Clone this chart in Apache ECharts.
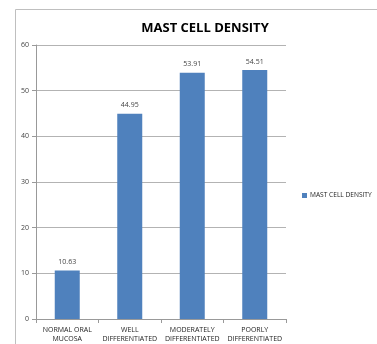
<!DOCTYPE html>
<html>
<head>
<meta charset="utf-8">
<script src="https://cdn.jsdelivr.net/npm/echarts@6/dist/echarts.min.js"></script>
<style>
  html, body { margin: 0; padding: 0; background: #fff; }
  #main { width: 377px; height: 344px; }
</style>
</head>
<body>
<div id="main"></div>
<script>
var categories = ['NORMAL ORAL\nMUCOSA', 'WELL\nDIFFERENTIATED', 'MODERATELY\nDIFFERENTIATED', 'POORLY\nDIFFERENTIATED'];
var density = [10.63, 44.95, 53.91, 54.51];
var seriesName = 'MAST CELL DENSITY';

var chart = echarts.init(document.getElementById('main'));
var option = {
    animation: false,
    backgroundColor: '#fff',
    // outer chart frame
    graphic: [{
        type: 'rect',
        shape: { x: 15.5, y: 9.5, width: 400, height: 400 },
        style: { fill: 'none', stroke: '#bfbfbf', lineWidth: 1 },
        silent: true
    }],
    title: {
        text: 'MAST CELL DENSITY',
        left: 200,
        textAlign: 'center',
        top: 17,
        textStyle: { fontFamily: 'Open Sans', fontSize: 13, fontWeight: 'bold', color: '#000' }
    },
    legend: {
        data: [seriesName],
        left: 297,
        top: 187,
        itemWidth: 5,
        itemHeight: 5,
        itemGap: 3,
        icon: 'rect',
        textStyle: { fontFamily: 'Open Sans', fontSize: 6.6, color: '#222', padding: [0, 0, 0, -2] }
    },
    grid: { left: 36, right: 91, top: 45, bottom: 25 },
    xAxis: {
        type: 'category',
        data: categories,
        axisLine: { lineStyle: { color: '#999', width: 1 } },
        axisTick: { show: true, alignWithLabel: false, length: 4, lineStyle: { color: '#999' } },
        axisLabel: { interval: 0, fontFamily: 'Open Sans', fontSize: 7, color: '#222', lineHeight: 9.5, margin: 6 }
    },
    yAxis: {
        type: 'value',
        min: 0,
        max: 60,
        interval: 10,
        axisLine: { show: true, lineStyle: { color: '#999' } },
        axisTick: { show: true, length: 4, lineStyle: { color: '#999' } },
        axisLabel: { fontFamily: 'Open Sans', fontSize: 7, color: '#444', margin: 7 },
        splitLine: { lineStyle: { color: '#b3b3b3', width: 1 } }
    },
    series: [{
        name: seriesName,
        type: 'bar',
        data: density,
        barWidth: '40%',
        itemStyle: { color: '#4F81BD' },
        label: {
            show: true,
            position: 'top',
            distance: 5,
            fontFamily: 'Open Sans',
            fontSize: 7,
            color: '#444'
        }
    }]
};
chart.setOption(option);
</script>
</body>
</html>
